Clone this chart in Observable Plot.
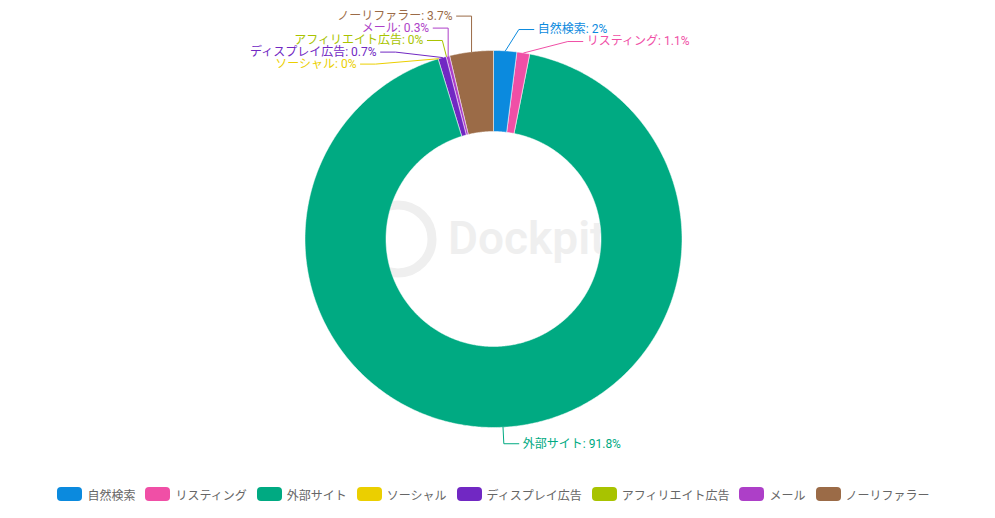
<!DOCTYPE html>
<html><head><meta charset="utf-8">
<script src="https://cdn.jsdelivr.net/npm/d3@7"></script>
<script src="https://cdn.jsdelivr.net/npm/@observablehq/plot@0.6"></script>
<style>
body{margin:0;background:#fff;font-family:Roboto,"Noto Sans CJK JP",sans-serif;}
#legend{display:flex;justify-content:center;gap:10px;height:24px;align-items:center;font-size:12px;color:#666;padding-right:8px;}
.item{display:flex;align-items:center;gap:5px;white-space:nowrap}
.sw{width:25px;height:14px;border-radius:4px}
</style></head><body><div id="chart"></div><div id="legend"></div>
<script>
const categories = ["自然検索","リスティング","外部サイト","ソーシャル","ディスプレイ広告","アフィリエイト広告","メール","ノーリファラー"];
const shares = [2, 1.1, 91.8, 0, 0.7, 0, 0.3, 3.7];
const colors = ["#0b8ade","#f04fa6","#00aa82","#ebcf00","#7128c3","#a8c300","#ad3fc8","#9b6b47"];

const W = 995, H = 482, CX = 493, CY = 238.5, R = 188.5, RI = 107.5;
const ELBOW = 205, ARC = 211, LEN2 = 15, GAP = 12;

const total = d3.sum(shares);
let cum = 0;
const slices = categories.map((c, i) => {
  const a0 = cum / total * 2 * Math.PI;
  cum += shares[i];
  const a1 = cum / total * 2 * Math.PI;
  return {c, v: shares[i], a0, a1, m: (a0 + a1) / 2};
});

const poly = [];
for (const s of slices) {
  if (s.v <= 0) continue;
  const n = Math.max(2, Math.ceil((s.a1 - s.a0) / (Math.PI / 360)));
  for (let k = 0; k <= n; k++) {
    const a = s.a0 + (s.a1 - s.a0) * k / n;
    poly.push({c: s.c, x: R * Math.sin(a), y: R * Math.cos(a)});
  }
  for (let k = n; k >= 0; k--) {
    const a = s.a0 + (s.a1 - s.a0) * k / n;
    poly.push({c: s.c, x: RI * Math.sin(a), y: RI * Math.cos(a)});
  }
}

const labels = slices.map(s => ({
  c: s.c, text: `${s.c}: ${s.v}%`,
  ax: R * Math.sin(s.m), ay: R * Math.cos(s.m),
  ex: ELBOW * Math.sin(s.m), ey: ELBOW * Math.cos(s.m),
  side: Math.sin(s.m) >= 0 ? 1 : -1
}));
labels.forEach(l => l.d = -l.ey);

function spread(items) {
  items.sort((a, b) => a.d - b.d);
  const blocks = [];
  items.forEach((it, i) => {
    blocks.push({sum: it.d - i * GAP, n: 1, start: i});
    while (blocks.length > 1) {
      const a = blocks[blocks.length - 2], b = blocks[blocks.length - 1];
      if (a.sum / a.n > b.sum / b.n) { blocks.pop(); a.sum += b.sum; a.n += b.n; } else break;
    }
  });
  for (const b of blocks) for (let j = 0; j < b.n; j++) {
    const i = b.start + j;
    items[i].ld = b.sum / b.n + i * GAP;
  }
}
spread(labels.filter(l => l.side > 0));
spread(labels.filter(l => l.side < 0));

const linePts = [];
for (const l of labels) {
  const ly = -l.ld;
  const shifted = Math.abs(l.ld - l.d) > 0.5;
  let bx, by;
  if (shifted) {
    const dx = Math.sqrt(Math.max(ARC * ARC - ly * ly, 0));
    bx = l.side > 0 ? Math.max(dx, l.ax) : Math.min(-dx, l.ax);
    by = ly;
  } else { bx = l.ex; by = l.ey; }
  const cx = bx + l.side * LEN2;
  l.ly = by; l.tx = cx + l.side * 4;
  linePts.push({c: l.c, x: l.ax, y: l.ay}, {c: l.c, x: bx, y: by}, {c: l.c, x: cx, y: by});
}

const chart = Plot.plot({
  width: W, height: H,
  margin: 0,
  style: {fontFamily: "Roboto, 'Noto Sans CJK JP', sans-serif", fontSize: "12px", background: "#fff"},
  x: {domain: [-CX, W - CX], axis: null},
  y: {domain: [-(H - CY), CY], axis: null},
  color: {domain: categories, range: colors},
  marks: [
    Plot.dot([0], {frameAnchor: "middle", dx: -100, dy: -2.5, r: 34, stroke: "#efefef", strokeWidth: 9, fill: "none"}),
    Plot.text(["Dockpit"], {frameAnchor: "middle", dx: -50, dy: -2, textAnchor: "start", fontSize: 46, fontWeight: 600, fill: "#efefef"}),
    Plot.line(poly, {x: "x", y: "y", z: "c", fill: "c", stroke: "#fff", strokeWidth: 0.5, curve: "linear-closed"}),
    Plot.line(linePts, {x: "x", y: "y", z: "c", stroke: "c", strokeWidth: 1}),
    Plot.text(labels.filter(l => l.side > 0), {x: "tx", y: "ly", text: "text", fill: "c", textAnchor: "start", fontSize: 12}),
    Plot.text(labels.filter(l => l.side < 0), {x: "tx", y: "ly", text: "text", fill: "c", textAnchor: "end", fontSize: 12})
  ]
});
document.getElementById("chart").appendChild(chart);

const lg = document.getElementById("legend");
categories.forEach((c, i) => {
  const it = document.createElement("div"); it.className = "item";
  const sw = document.createElement("div"); sw.className = "sw"; sw.style.background = colors[i];
  const tx = document.createElement("span"); tx.textContent = c;
  it.appendChild(sw); it.appendChild(tx); lg.appendChild(it);
});
</script></body></html>
